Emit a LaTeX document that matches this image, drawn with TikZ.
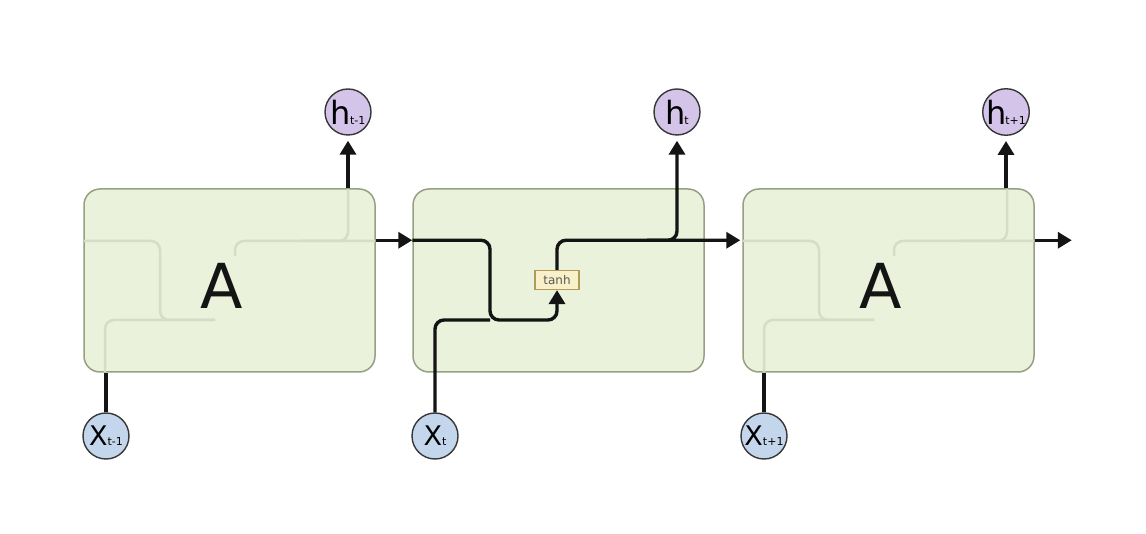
\documentclass[tikz,border=0pt]{standalone}
\usepackage{fontspec}
\setmainfont{DejaVu Sans}
\usetikzlibrary{arrows.meta,calc,positioning}
\definecolor{leaf}{RGB}{235,242,220}
\definecolor{leafline}{RGB}{150,160,130}
\definecolor{ghostline}{RGB}{214,220,198}
\definecolor{lilac}{RGB}{212,196,234}
\definecolor{sky}{RGB}{196,214,236}
\definecolor{cream}{RGB}{248,240,200}
\definecolor{bark}{RGB}{175,155,90}
\definecolor{ink}{RGB}{20,20,20}
\tikzset{
  >={Triangle[length=14pt,width=16pt]},
  cell/.style={rounded corners=16pt,draw=leafline,line width=1.5pt,fill=leaf,minimum width=291pt,minimum height=183pt,inner sep=0pt},
  hnode/.style={circle,draw=ink!85,line width=1.4pt,fill=lilac,minimum size=46pt,inner sep=0pt},
  xnode/.style={circle,draw=ink!85,line width=1.4pt,fill=sky,minimum size=46pt,inner sep=0pt},
  gate/.style={draw=bark,line width=1.2pt,fill=cream,minimum width=44pt,minimum height=19pt,inner sep=0pt,font=\fontsize{12}{12}\selectfont,text=black!65},
  flow/.style={ink,line width=3.4pt,rounded corners=9pt},
  ghost/.style={draw=ghostline,line width=2.5pt,rounded corners=9pt},
  big/.style={font=\fontsize{62}{62}\selectfont,text=ink},
}
\newcommand{\hlab}[1]{{\fontsize{32}{32}\selectfont h}\kern-1pt{\fontsize{11}{11}\selectfont #1}}
\newcommand{\xlab}[1]{{\fontsize{27}{27}\selectfont X}{\fontsize{11}{11}\selectfont #1}}

\begin{document}
\begin{tikzpicture}[x=1pt,y=-1pt]
  \useasboundingbox[fill=white] (0,0) rectangle (1146,534);
  % cells
  \foreach \c/\dx in {1/0,2/329,3/659} { \node[cell] (c\c) at ({229.5+\dx},280.5) {}; }
  % faded inner paths of the outer cells
  \foreach \dx in {0,659} {
    \begin{scope}[shift={(\dx,0)}]
      \draw[ghost] (84,241) -| (160,320) -- (215,320);
      \draw[ghost] (105,372) |- (215,320);
      \draw[ghost] (235,256) |- (375,241);
      \draw[ghost] (300,241) -| (348,189);
    \end{scope}
  }
  \node[big] (a1) at (222,286) {A};
  \node[big] (a3) at (881,286) {A};
  % inputs and outputs
  \foreach \c/\t/\dx in {1/t-1/0,2/t/329,3/t+1/658} {
    \node[hnode] (h\c) at ({348+\dx},112) {\hlab{\t}};
    \node[xnode] (x\c) at ({106+\dx},436) {\xlab{\t}};
  }
  \node[gate] (tanh) at (557,280) {tanh};
  \coordinate (in2) at ($(c2.north west)+(0,52)$);
  \coordinate (out2) at ($(c3.north west)+(-2,52)$);
  \coordinate (out3) at ($(c3.north east)+(37,52)$);
  \coordinate (mix) at (490,320);
  % connectors
  \draw[flow,->,shorten >=5pt] (c1.north -| h1) -- (h1.south);
  \draw[flow,->] ($(c1.north east)+(0,52)$) -- (in2);
  \draw[flow] (x1.north) -- (x1 |- c1.south);
  \draw[flow,->] (in2) -| (mix) -| (tanh.south);
  \draw[flow] (x2.north) |- (mix);
  \draw[flow,->] (tanh.north) |- (out2);
  \draw[flow,->,shorten >=5pt] ($(h2 |- out2)+(-30,0)$) -- (h2 |- out2) -- (h2.south);
  \draw[flow,->,shorten >=5pt] (c3.north -| h3) -- (h3.south);
  \draw[flow,->] ($(c3.north east)+(0,52)$) -- (out3);
  \draw[flow] (x3.north) -- (x3 |- c3.south);
\end{tikzpicture}
\end{document}
